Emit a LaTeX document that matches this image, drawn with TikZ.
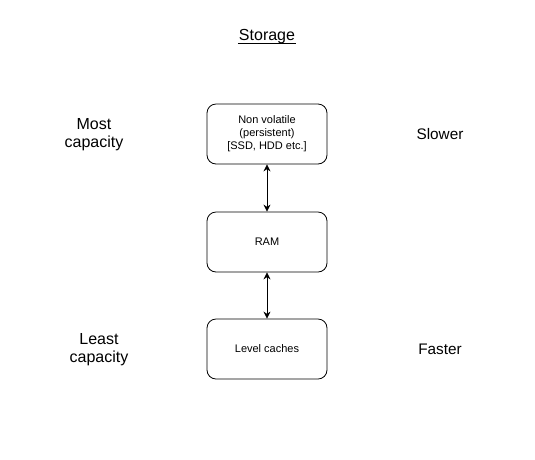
\documentclass[tikz,border=0pt]{standalone}
\usepackage{fontspec}
\setmainfont{Liberation Sans}
\usetikzlibrary{arrows.meta}
\begin{document}
\begin{tikzpicture}[x=1pt,y=-1pt,
  box/.style={draw,rounded corners=9pt,minimum width=120pt,minimum height=60pt,align=center,font=\fontsize{11}{13}\selectfont,line width=0.8pt},
  side/.style={align=center,font=\fontsize{16}{18}\selectfont},
  side2/.style={align=center,font=\fontsize{15.3}{18}\selectfont},
  link/.style={{Stealth[length=7pt,width=7pt]}-{Stealth[length=7pt,width=7pt]},line width=0.8pt}]
\useasboundingbox (0,0) rectangle (535,459);
\node[side,inner sep=1pt] (title) at (267,37) {Storage};
\draw[line width=0.8pt] ([yshift=-2.5pt]title.base west) -- ([yshift=-2.5pt]title.base east);
\node[box] (nv) at (267,134) {Non volatile\\(persistent)\\{[SSD, HDD etc.]}};
\node[box] (ram) at (267,242) {RAM};
\node[box] (lc) at (267,349) {Level caches};
\node[side] (most) at (94,135) {Most\\capacity};
\node[side2] (slow) at (440,134) {Slower};
\node[side] (least) at (99,350) {Least\\capacity};
\node[side2] (fast) at (440,349) {Faster};
\draw[link] (nv) -- (ram);
\draw[link] (ram) -- (lc);
\end{tikzpicture}
\end{document}
